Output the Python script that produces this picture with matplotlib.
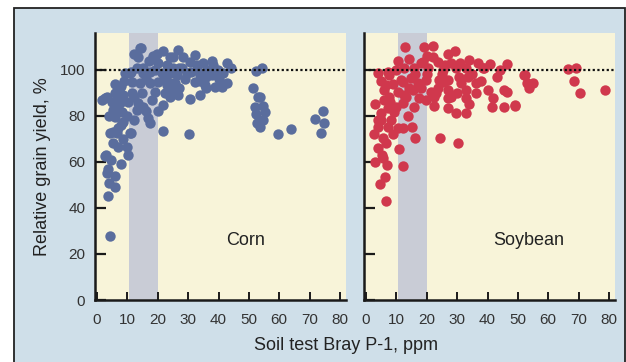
import matplotlib
matplotlib.use("Agg")
import matplotlib.pyplot as plt
from matplotlib.patches import Rectangle

plt.rcParams['font.family'] = ['Liberation Sans', 'DejaVu Sans']

# corn: soil test P (ppm) vs relative yield (%)
corn_x = [4.3, 3.6, 3.3, 5.9, 3.9, 5.9, 3.6, 3.0, 10.2, 7.9, 2.6, 4.6,
          4.3, 6.6, 11.2, 8.6, 5.3, 6.9, 9.9, 21.7,
          14.5, 13.5, 19.7, 21.7, 24.0, 20.0, 23.0, 13.0, 10.9, 9.2, 15.1, 17.4,
          21.4, 24.0, 5.9, 7.6, 11.5, 14.1, 17.4, 20.0, 23.0, 25.0, 3.3, 5.9,
          8.6, 11.5, 14.8, 19.0, 22.4, 4.9, 7.6, 10.2, 13.5, 21.7, 5.3, 8.2,
          13.0, 15.0, 5.9, 8.6, 16.8, 17.4, 6.9, 5.3, 10.9, 2.6,
          26.6, 32.2, 28.3, 25.0, 30.6, 34.9, 38.2, 42.8, 25.0, 28.0, 32.9, 36.2,
          39.8, 26.3, 29.6, 33.9, 37.8, 41.4, 25.7, 32.2, 35.5, 38.8, 41.0, 42.8,
          26.6, 30.6, 33.9, 30.3, 25.0, 14.0,
          17.0, 19.0, 16.0, 22.0, 27.0, 29.0, 31.0, 34.0, 36.0, 40.0, 44.0, 38.0,
          27.0, 9.0, 7.0, 12.0, 18.0, 24.0, 16.0, 10.0, 6.0, 4.0, 8.0, 12.0,
          20.0, 36.0, 33.0, 23.0, 15.0, 11.0, 8.0, 1.5, 18.5, 12.0,
          52.3, 51.3, 53.0, 52.3, 52.6, 54.3, 53.6, 54.6, 55.3, 54.6, 53.6, 52.0,
          59.5, 64.0, 71.7, 74.3, 74.7, 73.7]
corn_y = [28, 45, 55, 54, 51, 49, 57, 63, 63, 59, 62.6, 61,
          72.6, 72.6, 72.6, 70, 68, 66.5, 66.5, 73.5,
          109.5, 105.6, 107, 108, 105.6, 103, 102, 101, 98.7, 98.7, 98.7, 99,
          98.7, 98.7, 94, 92.6, 94.8, 94.3, 94.3, 94.8, 93.5, 94.3, 88, 90,
          89, 90, 90, 90.4, 90, 86, 85.6, 86, 85.6, 84.8, 82.6, 81.7,
          82.6, 84, 79.6, 77.4, 79, 77, 74.8, 73, 72.6, 87.8,
          108.7, 106.5, 105.6, 105.6, 103.5, 103, 102, 103, 100.9, 100.9, 100, 100,
          100, 97.8, 98.7, 97.8, 97.8, 98.7, 94.3, 94.8, 93.5, 92.6, 92.6, 94.3,
          89, 87.4, 89, 72, 90.4, 109.6,
          104, 100, 96, 96, 101, 96, 99, 95, 97, 96, 101, 104,
          92, 95, 88, 88, 87, 88, 82, 80, 84, 80, 76, 78,
          82, 92, 102, 95, 101, 99, 93, 87, 106, 107,
          99.6, 92, 88, 81, 77, 101, 88, 84.3, 81.7, 78, 75, 84,
          72, 74.3, 78.6, 82, 77, 72.6]

# soybean
soy_x = [12.8, 19.0, 22.0, 10.5, 14.1, 18.8, 22.0, 23.7, 27.0, 29.3, 33.9, 36.8,
         40.8, 46.4, 3.9, 7.2, 9.9, 12.5, 15.8, 18.1, 20.4, 25.3, 29.6, 32.9,
         38.8, 7.6, 11.5, 14.8, 19.7, 24.0, 27.0, 30.6, 33.6, 6.6, 12.2, 17.1,
         24.7, 31.3, 36.2, 5.9, 10.5, 15.5, 21.4, 27.0, 32.9, 40.1, 45.4, 7.6,
         12.5, 17.4, 22.4, 28.0, 36.2, 5.9, 12.2, 19.7, 27.0, 32.9, 41.8, 15.8,
         22.4, 27.0, 29.6, 32.9, 41.4, 45.4, 7.2, 4.9, 9.2, 13.8, 3.9, 8.2,
         3.9, 7.2, 10.5, 12.2, 15.1, 16.1, 24.3, 30.3, 5.6, 6.6, 3.9, 10.9,
         5.3, 5.6, 6.9, 12.2, 6.2, 4.6, 6.6,
         5.0, 9.0, 14.0, 20.0, 25.0, 28.0, 31.0, 35.0, 38.0, 43.0, 3.0, 8.0,
         13.0, 18.0, 23.0, 30.0, 34.0, 2.5, 9.0, 3.0, 5.0, 10.0, 16.0, 20.0,
         26.0, 44.0,
         52.3, 53.0, 54.9, 53.6, 46.4, 49.0, 66.4, 69.0, 68.4, 70.4, 78.6,
         25.7, 23.7, 38.5, 52.0, 49.0]
soy_y = [110, 110, 110.4, 104, 104.8, 103.5, 105.6, 103.5, 107, 108, 104.3, 103,
         102.6, 102.6, 98.7, 99, 100, 101, 101, 103, 100.9, 100, 100.9, 100.9,
         100.9, 97.8, 95.6, 96.5, 95.6, 95.6, 95.6, 97, 97, 93.5, 94.8, 94.3,
         94.8, 94.3, 94.3, 91.3, 90.4, 91.3, 90.4, 91.3, 91.3, 91.3, 91.3, 88.3,
         89, 87.8, 88.3, 88.3, 90, 87, 85.6, 87, 87.8, 87.8, 87.8, 84,
         84.3, 83.5, 81.3, 81.3, 84, 84, 83.5, 81.3, 81.7, 80, 78.3, 78.3,
         75.2, 75.2, 74.8, 74.8, 75.2, 70.4, 70.4, 68.3, 70.4, 68.3, 66, 65.6,
         63, 61.7, 58.7, 58.3, 53.5, 50.4, 43,
         95, 94, 92, 98, 98, 103, 103, 98, 95, 97, 85, 86,
         88, 92, 90, 90, 85, 72, 72, 60, 78, 84, 98, 106,
         102, 100,
         97.8, 94.3, 94.3, 92, 90.4, 84.3, 100.4, 100.9, 95.2, 90, 91.3,
         94.8, 92, 100.9, 97.8, 84.8]

crops = ['Corn', 'Soybean']
colors = ['#5a6d9d', '#d0384d']
band = (10.5, 20)
x_ticks = [0, 10, 20, 30, 40, 50, 60, 70, 80]
y_ticks = [0, 20, 40, 60, 80, 100]

fig = plt.figure(figsize=(6.26, 3.62), dpi=100)
fig.patch.set_facecolor('white')
fig.patches.append(Rectangle((14 / 626, -0.01), 611 / 626, 1 - 8 / 362 + 0.01,
                             transform=fig.transFigure, facecolor='#cfdfe9',
                             edgecolor='#222222', linewidth=1.3, zorder=-5))

ax1 = fig.add_axes([95 / 626, 1 - 300 / 362, 251 / 626, 267 / 362])
ax2 = fig.add_axes([364 / 626, 1 - 300 / 362, 251 / 626, 267 / 362])

for ax, name, xs, ys, c in zip([ax1, ax2], crops, [corn_x, soy_x], [corn_y, soy_y], colors):
    ax.set_facecolor('#f8f4d9')
    ax.axvspan(band[0], band[1], color='#c9ccd6', lw=0, zorder=1)
    ax.scatter(xs, ys, s=56, color=c, linewidths=0, zorder=2)
    ax.axhline(100, color='#111111', lw=1.6, linestyle=(0, (1, 1.1)), zorder=3)
    ax.text(49 if name == 'Corn' else 53.5, 26, name, ha='center', va='center',
            fontsize=13, color='#222222')
    ax.set_xlim(-0.7, 82)
    ax.set_ylim(0, 116)
    ax.set_xticks(x_ticks)
    ax.set_yticks(y_ticks)
    for s in ['top', 'right']:
        ax.spines[s].set_visible(False)
    for s in ['left', 'bottom']:
        ax.spines[s].set_linewidth(1.8)
        ax.spines[s].set_color('#1a1a1a')
    ax.tick_params(axis='y', direction='in', length=8, width=1.6, color='#1a1a1a',
                   labelsize=11, labelcolor='#333333', pad=7)
    ax.tick_params(axis='x', direction='in', length=6, width=1.4, color='#1a1a1a',
                   labelsize=11, labelcolor='#333333', pad=9)

ax2.tick_params(axis='y', labelleft=False)
ax1.set_ylabel('Relative grain yield, %', fontsize=13, color='#222222', labelpad=6)
fig.text(0.553, 0.045, 'Soil test Bray P-1, ppm', ha='center', va='center',
         fontsize=13, color='#222222')

fig.savefig('out.png', dpi=100)
